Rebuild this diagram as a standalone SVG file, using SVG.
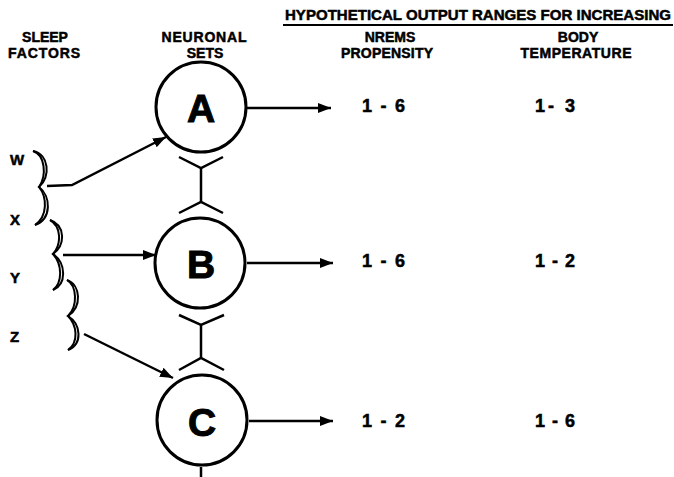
<svg xmlns="http://www.w3.org/2000/svg" width="674" height="477" viewBox="0 0 674 477">
<style>
text{font-family:"Liberation Sans",Arial,sans-serif;font-weight:bold;fill:#000;stroke:#000;stroke-width:0.5}
.hd{font-size:14px;text-anchor:middle}
.lbl{font-size:15px}
.num{font-size:18px}
.big{font-size:39px;text-anchor:middle;stroke-width:1}
.ln{fill:none;stroke:#000;stroke-width:2.5}
.circ{fill:#fff;stroke:#000;stroke-width:3}
.br{fill:none;stroke:#000;stroke-width:2}
</style>
<defs>
<marker id="ah" markerUnits="userSpaceOnUse" markerWidth="14" markerHeight="11" refX="13" refY="5" orient="auto">
<path d="M0,0 L13,5 L0,10 z" fill="#000"/>
</marker>
</defs>
<rect width="674" height="477" fill="#fff"/>
<g id="headers">
<text x="285" y="20" font-size="15" textLength="386" lengthAdjust="spacingAndGlyphs">HYPOTHETICAL OUTPUT RANGES FOR INCREASING</text>
<line x1="283" y1="25" x2="673" y2="25" stroke="#000" stroke-width="2"/>
<text class="hd" x="45" y="42">SLEEP</text>
<text class="hd" x="44" y="58" textLength="72">FACTORS</text>
<text class="hd" x="204" y="42" textLength="85">NEURONAL</text>
<text class="hd" x="205" y="58">SETS</text>
<text class="hd" x="390" y="42">NREMS</text>
<text class="hd" x="387" y="58" textLength="92">PROPENSITY</text>
<text class="hd" x="578" y="42">BODY</text>
<text class="hd" x="576" y="58" textLength="111">TEMPERATURE</text>
</g>
<g id="factors">
<text class="lbl" x="10" y="165">W</text>
<text class="lbl" x="10" y="225">X</text>
<text class="lbl" x="10" y="283">Y</text>
<text class="lbl" x="10" y="342">Z</text>
<path class="br" d="M33,151 C45,155 47,175 39,187 C47,197 48,216 35,225"/>
<path class="br" d="M33,151 C49,154 51,177 39,187 C51,196 52,219 35,225"/>
<path class="br" d="M50,220 C61,226 62,244 53,254 C62,264 63,282 53,290"/>
<path class="br" d="M50,220 C65,225 66,245 53,254 C66,263 67,284 53,290"/>
<path class="br" d="M67,280 C77,286 78,306 68,316 C77,325 79,342 68,350"/>
<path class="br" d="M67,280 C81,285 82,307 68,316 C81,324 83,344 68,350"/>
</g>
<g id="A">
<circle class="circ" cx="201" cy="107" r="45"/>
<text class="big" x="201" y="122">A</text>
</g>
<g id="B">
<circle class="circ" cx="200" cy="263" r="45"/>
<text class="big" x="201" y="278">B</text>
</g>
<g id="C">
<circle class="circ" cx="202" cy="420" r="45"/>
<text class="big" x="202" y="436">C</text>
</g>
<g id="connectors">
<polyline class="ln" points="47,186 72,185 166,137" marker-end="url(#ah)"/>
<line class="ln" x1="63" y1="255" x2="156" y2="255" marker-end="url(#ah)"/>
<line class="ln" x1="84" y1="334" x2="173" y2="378" marker-end="url(#ah)"/>
<line class="ln" x1="247" y1="108" x2="331" y2="108" marker-end="url(#ah)"/>
<line class="ln" x1="247" y1="263" x2="333" y2="263" marker-end="url(#ah)"/>
<line class="ln" x1="249" y1="421" x2="333" y2="421" marker-end="url(#ah)"/>
<polyline class="ln" points="179,157 201,168 223,157"/>
<line class="ln" x1="201" y1="168" x2="201" y2="202"/>
<polyline class="ln" points="179,213 201,202 223,213"/>
<polyline class="ln" points="179,315 201,325 224,315"/>
<line class="ln" x1="201" y1="325" x2="201" y2="358"/>
<polyline class="ln" points="179,370 201,358 224,370"/>
<line class="ln" x1="201" y1="467" x2="201" y2="477"/>
</g>
<g id="outputs">
<text class="num" x="362" y="112" textLength="43" lengthAdjust="spacing">1 - 6</text>
<text class="num" x="535" y="112" textLength="40" lengthAdjust="spacing">1- 3</text>
<text class="num" x="362" y="267" textLength="43" lengthAdjust="spacing">1 - 6</text>
<text class="num" x="535" y="267" textLength="40" lengthAdjust="spacing">1 - 2</text>
<text class="num" x="362" y="427" textLength="43" lengthAdjust="spacing">1 - 2</text>
<text class="num" x="535" y="427" textLength="40" lengthAdjust="spacing">1 - 6</text>
</g>
</svg>
